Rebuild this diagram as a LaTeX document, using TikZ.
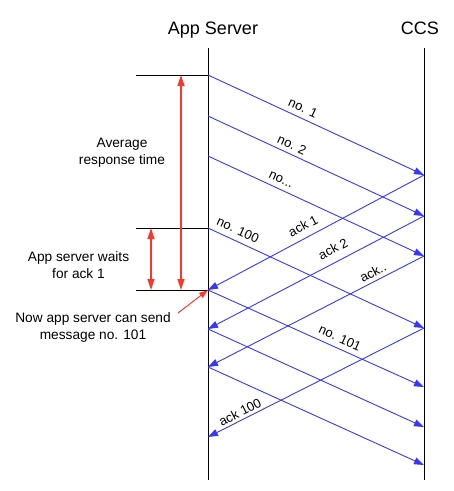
\documentclass[tikz,border=0pt]{standalone}
\usepackage{fontspec}
\setmainfont{Liberation Sans}
\usetikzlibrary{arrows.meta}
\definecolor{msgblue}{RGB}{55,55,250}
\definecolor{tred}{RGB}{250,55,45}
\tikzset{
  life/.style={draw=black, line width=1pt},
  tick/.style={draw=black, line width=1pt},
  msg/.style={draw=msgblue, line width=0.9pt, -{Triangle[length=10pt,width=7pt]}},
  ackmsg/.style={draw=msgblue, line width=0.9pt, {Triangle[length=10pt,width=7pt]}-},
  span/.style={draw=tred, line width=1.2pt, {Triangle[length=11pt,width=7pt]}-{Triangle[length=11pt,width=7pt]}},
  pointer/.style={draw=tred, line width=1pt, -{Triangle[length=9pt,width=6pt]}},
  title/.style={font=\fontsize{18}{21}\selectfont, inner sep=0pt},
  lbl/.style={font=\fontsize{13}{15}\selectfont, inner sep=0pt},
  side/.style={font=\fontsize{13.7}{17}\selectfont, inner sep=0pt, align=center},
}
\begin{document}
\begin{tikzpicture}[x=1pt, y=-1pt]
\useasboundingbox (0,0) rectangle (454,491);
% titles
\node[title, anchor=base] (tApp) at (213,34) {App Server};
\node[title, anchor=base] (tCCS) at (420,34) {CCS};
% lifelines
\coordinate (aTop) at (208,48); \coordinate (aBot) at (208,480);
\coordinate (cTop) at (424,48); \coordinate (cBot) at (424,480);
\draw[life] (aTop) -- (aBot);
\draw[life] (cTop) -- (cBot);
% app server points
\coordinate (a75) at (208,75);
\coordinate (a116) at (208,116);
\coordinate (a156) at (208,156);
\coordinate (a228) at (208,228);
\coordinate (a289) at (208,290);
\coordinate (a329) at (208,329);
\coordinate (a367) at (208,367);
\coordinate (a437) at (208,437);
% CCS points
\coordinate (c175) at (424,175);
\coordinate (c216) at (424,216);
\coordinate (c256) at (424,256);
\coordinate (c328) at (424,328);
\coordinate (c387) at (424,387);
\coordinate (c427) at (424,427);
\coordinate (c465) at (424,465);
% messages
\draw[msg] (a75) -- (c175);
\draw[msg] (a116) -- (c216);
\draw[msg] (a156) -- (c256);
\draw[msg] (a228) -- (c328);
\draw[msg] (a289) -- (c387);
\draw[msg] (a329) -- (c427);
\draw[msg] (a367) -- (c465);
% acks
\draw[ackmsg] (a289) -- (c175);
\draw[ackmsg] (a329) -- (c216);
\draw[ackmsg] (a367) -- (c256);
\draw[ackmsg] (a437) -- (c328);
% labels
\node[lbl, rotate=-24.8] (l1) at (303,108) {no. 1};
\node[lbl, rotate=-24.8] (l2) at (292,145) {no. 2};
\node[lbl, rotate=-24.8] (l3) at (281,180) {no...};
\node[lbl, rotate=-24.8] (l100) at (238,230) {no. 100};
\node[lbl, rotate=-24.4] (l101) at (340,338) {no. 101};
\node[lbl, rotate=27.8] (k1) at (303,226) {ack 1};
\node[lbl, rotate=27.6] (k2) at (333,249) {ack 2};
\node[lbl, rotate=27.2] (k3) at (373,272) {ack..};
\node[lbl, rotate=26.8] (k100) at (240,412) {ack 100};
% left ticks
\coordinate (h75) at (136,75);
\coordinate (h228) at (136,228);
\coordinate (h289) at (136,290);
\draw[tick] (h75) -- (a75);
\draw[tick] (h228) -- (a228);
\draw[tick] (h289) -- (a289);
% red spans
\coordinate (r1t) at (181,75); \coordinate (r1b) at (181,290);
\coordinate (r2t) at (151,228); \coordinate (r2b) at (151,290);
\draw[span] (r1t) -- (r1b);
\draw[span] (r2t) -- (r2b);
% side texts
\node[side] (avg) at (122,153) {Average\\response time};
\node[side] (wait) at (78.5,265) {App server waits\\for ack 1};
\node[side] (now) at (93,327) {Now app server can send\\message no. 101};
\coordinate (pStart) at (178,313);
\draw[pointer] (pStart) -- (a289);
\end{tikzpicture}
\end{document}
